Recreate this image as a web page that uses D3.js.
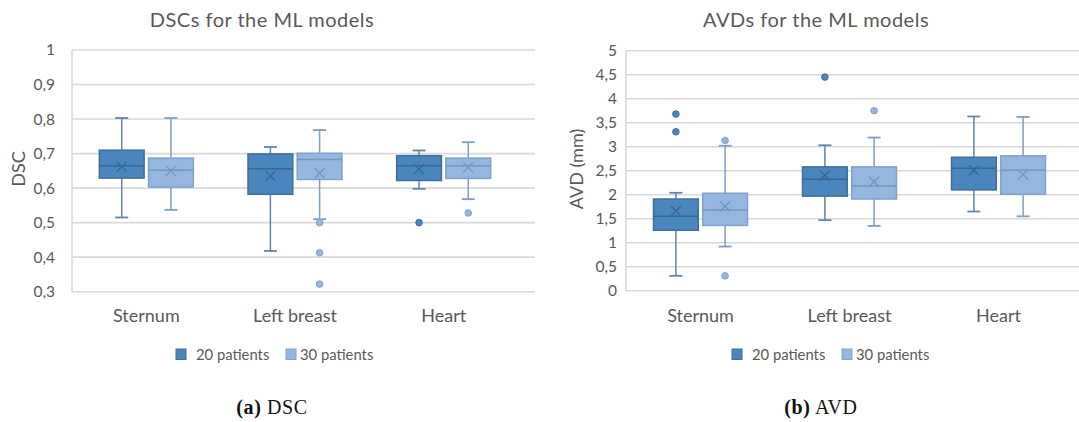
<!DOCTYPE html>
<html>
<head>
<meta charset="utf-8">
<script src="https://cdn.jsdelivr.net/npm/d3@7"></script>
<style>
  html, body { margin: 0; padding: 0; background: #fff; }
  svg { display: block; }
  text { font-family: Lato, "Open Sans", sans-serif; }
</style>
</head>
<body>
<svg id="chart" width="1079" height="422"></svg>
<script>
// ---------- data ----------
const categories = ["Sternum", "Left breast", "Heart"];
const seriesNames = ["20 patients", "30 patients"];

// DSC box statistics per category: min, q1, median, q3, max, mean, outliers
const dsc20 = [
  {min: 0.515, q1: 0.629, med: 0.665, q3: 0.710, max: 0.803, mean: 0.662, out: []},
  {min: 0.418, q1: 0.582, med: 0.656, q3: 0.699, max: 0.719, mean: 0.635, out: []},
  {min: 0.598, q1: 0.622, med: 0.665, q3: 0.694, max: 0.709, mean: 0.655, out: [0.500]}
];
const dsc30 = [
  {min: 0.537, q1: 0.603, med: 0.652, q3: 0.687, max: 0.803, mean: 0.650, out: []},
  {min: 0.510, q1: 0.625, med: 0.683, q3: 0.701, max: 0.768, mean: 0.643, out: [0.500, 0.413, 0.322]},
  {min: 0.568, q1: 0.628, med: 0.665, q3: 0.687, max: 0.733, mean: 0.660, out: [0.528]}
];
// AVD box statistics (mm)
const avd20 = [
  {min: 0.31, q1: 1.26, med: 1.55, q3: 1.91, max: 2.04, mean: 1.66, out: [3.68, 3.31]},
  {min: 1.47, q1: 1.97, med: 2.32, q3: 2.58, max: 3.03, mean: 2.40, out: [4.45]},
  {min: 1.65, q1: 2.10, med: 2.55, q3: 2.78, max: 3.63, mean: 2.51, out: []}
];
const avd30 = [
  {min: 0.92, q1: 1.36, med: 1.68, q3: 2.03, max: 3.02, mean: 1.76, out: [3.13, 0.31]},
  {min: 1.35, q1: 1.91, med: 2.18, q3: 2.58, max: 3.19, mean: 2.27, out: [3.75]},
  {min: 1.55, q1: 2.01, med: 2.51, q3: 2.81, max: 3.62, mean: 2.42, out: []}
];

const dscTicks = [0.3, 0.4, 0.5, 0.6, 0.7, 0.8, 0.9, 1];
const avdTicks = [0, 0.5, 1, 1.5, 2, 2.5, 3, 3.5, 4, 4.5, 5];

// ---------- styles ----------
const styles = [
  {fill: "#4a85bd", stroke: "#3f6f9c", line: "#3a6791", whisker: "#5f86ad"},
  {fill: "#95b7df", stroke: "#7fa3cc", line: "#7497c0", whisker: "#7e9fc4"}
];
const textColor = "#595959";
const gridColor = "#d9d9d9";

const locale = d3.formatLocale({decimal: ",", thousands: ".", grouping: [3], currency: ["", ""]});
const fmt = locale.format(".1~f");

const svg = d3.select("#chart");

function drawPanel(cfg) {
  const g = svg.append("g");
  const x = d3.scaleBand().domain(categories).range([cfg.left, cfg.right]);
  const y = d3.scaleLinear().domain(cfg.domain).range([cfg.bottom, cfg.top]);
  const sub = d3.scaleBand().domain(seriesNames).range([0, 94]).paddingInner(0.09);
  const boxOffset = -47;

  // gridlines
  g.append("g").selectAll("line").data(cfg.ticks).join("line")
    .attr("x1", cfg.left).attr("x2", cfg.gridRight)
    .attr("y1", d => y(d)).attr("y2", d => y(d))
    .attr("stroke", gridColor).attr("stroke-width", 1.6);
  // vertical axis line
  g.append("line")
    .attr("x1", cfg.left).attr("x2", cfg.left)
    .attr("y1", y(cfg.domain[1])).attr("y2", y(cfg.domain[0]))
    .attr("stroke", gridColor).attr("stroke-width", 1.6);

  // y axis labels
  const yAxis = d3.axisLeft(y).tickValues(cfg.ticks).tickFormat(fmt).tickSize(0).tickPadding(0);
  const ya = g.append("g").attr("transform", `translate(${cfg.tickX},0)`).call(yAxis);
  ya.select(".domain").remove();
  ya.selectAll("text").attr("fill", textColor).style("font-size", "15.5px")
    .style("font-family", "Lato, sans-serif");

  // x axis labels
  const xAxis = d3.axisBottom(x).tickSize(0).tickPadding(0);
  const xa = g.append("g").attr("transform", `translate(0,${cfg.catY})`).call(xAxis);
  xa.select(".domain").remove();
  xa.selectAll("text").attr("fill", textColor).style("font-size", "18px")
    .style("font-family", "Lato, sans-serif").attr("dy", 0);

  // title
  g.append("text").attr("x", cfg.titleX).attr("y", 27).attr("text-anchor", "middle")
    .attr("fill", textColor).style("font-size", "20px").style("letter-spacing", "0.5px").text(cfg.title);
  // y axis title
  g.append("text").attr("transform", `translate(${cfg.yTitleX},${cfg.yTitleY}) rotate(-90)`)
    .attr("text-anchor", "middle").attr("fill", textColor).style("font-size", "18px").text(cfg.yTitle);

  // boxes
  cfg.series.forEach((data, si) => {
    const st = styles[si];
    const bw = sub.bandwidth();
    const gg = g.append("g").selectAll("g").data(data).join("g")
      .attr("transform", (d, i) => `translate(${x(categories[i]) + x.bandwidth() / 2 + boxOffset + sub(seriesNames[si])},0)`);
    // whiskers
    gg.append("line").attr("x1", bw / 2).attr("x2", bw / 2)
      .attr("y1", d => y(d.max)).attr("y2", d => y(d.q3))
      .attr("stroke", st.whisker).attr("stroke-width", 1.5);
    gg.append("line").attr("x1", bw / 2).attr("x2", bw / 2)
      .attr("y1", d => y(d.q1)).attr("y2", d => y(d.min))
      .attr("stroke", st.whisker).attr("stroke-width", 1.5);
    gg.append("line").attr("x1", bw / 2 - 6.5).attr("x2", bw / 2 + 6.5)
      .attr("y1", d => y(d.max)).attr("y2", d => y(d.max))
      .attr("stroke", st.whisker).attr("stroke-width", 1.8);
    gg.append("line").attr("x1", bw / 2 - 6.5).attr("x2", bw / 2 + 6.5)
      .attr("y1", d => y(d.min)).attr("y2", d => y(d.min))
      .attr("stroke", st.whisker).attr("stroke-width", 1.8);
    // box
    gg.append("rect").attr("x", 0).attr("width", bw)
      .attr("y", d => y(d.q3)).attr("height", d => y(d.q1) - y(d.q3))
      .attr("fill", st.fill).attr("stroke", st.stroke).attr("stroke-width", 1.5);
    // median
    gg.append("line").attr("x1", 0).attr("x2", bw)
      .attr("y1", d => y(d.med)).attr("y2", d => y(d.med))
      .attr("stroke", st.line).attr("stroke-width", 1.5);
    // mean X
    const m = 5;
    gg.append("path")
      .attr("d", d => `M${bw / 2 - m},${y(d.mean) - m}L${bw / 2 + m},${y(d.mean) + m}M${bw / 2 + m},${y(d.mean) - m}L${bw / 2 - m},${y(d.mean) + m}`)
      .attr("stroke", st.line).attr("stroke-width", 1.3).attr("fill", "none");
    // outliers
    gg.selectAll("circle").data(d => d.out).join("circle")
      .attr("cx", bw / 2).attr("cy", d => y(d)).attr("r", 3.3)
      .attr("fill", st.fill).attr("stroke", st.stroke).attr("stroke-width", 1);
  });

  // legend
  const lg = g.append("g").attr("transform", `translate(${cfg.legendX},349)`);
  const items = lg.selectAll("g").data(seriesNames).join("g")
    .attr("transform", (d, i) => `translate(${i * 110},0)`);
  items.append("rect").attr("x", 0).attr("y", 0).attr("width", 10).attr("height", 10.5)
    .attr("fill", (d, i) => styles[i].fill).attr("stroke", (d, i) => styles[i].stroke);
  items.append("text").attr("x", (d, i) => i === 0 ? 20 : 14).attr("y", 10.5).attr("fill", textColor)
    .style("font-size", "14.8px").text(d => d);

  // caption
  const cap = svg.append("text").attr("x", cfg.captionX).attr("y", 414).attr("text-anchor", "middle")
    .style("font-family", "'Liberation Serif', serif").style("font-size", "20px")
    .style("letter-spacing", "0.6px").attr("fill", "#111");
  cap.append("tspan").style("font-weight", "bold").text(cfg.captionLabel);
  cap.append("tspan").text(" " + cfg.captionText);
}

drawPanel({
  left: 72, right: 518, gridRight: 535, top: 50, bottom: 291.7,
  domain: [0.3, 1], ticks: dscTicks, tickX: 55, catY: 321.5,
  series: [dsc20, dsc30],
  title: "DSCs for the ML models", titleX: 262,
  yTitle: "DSC", yTitleX: 25, yTitleY: 169,
  legendX: 176, captionX: 272, captionLabel: "(a)", captionText: "DSC"
});
drawPanel({
  left: 626, right: 1073, gridRight: 1079, top: 50.7, bottom: 290.7,
  domain: [0, 5], ticks: avdTicks, tickX: 617, catY: 321.5,
  series: [avd20, avd30],
  title: "AVDs for the ML models", titleX: 816,
  yTitle: "AVD (mm)", yTitleX: 583, yTitleY: 169,
  legendX: 732, captionX: 821, captionLabel: "(b)", captionText: "AVD"
});
</script>
</body>
</html>
